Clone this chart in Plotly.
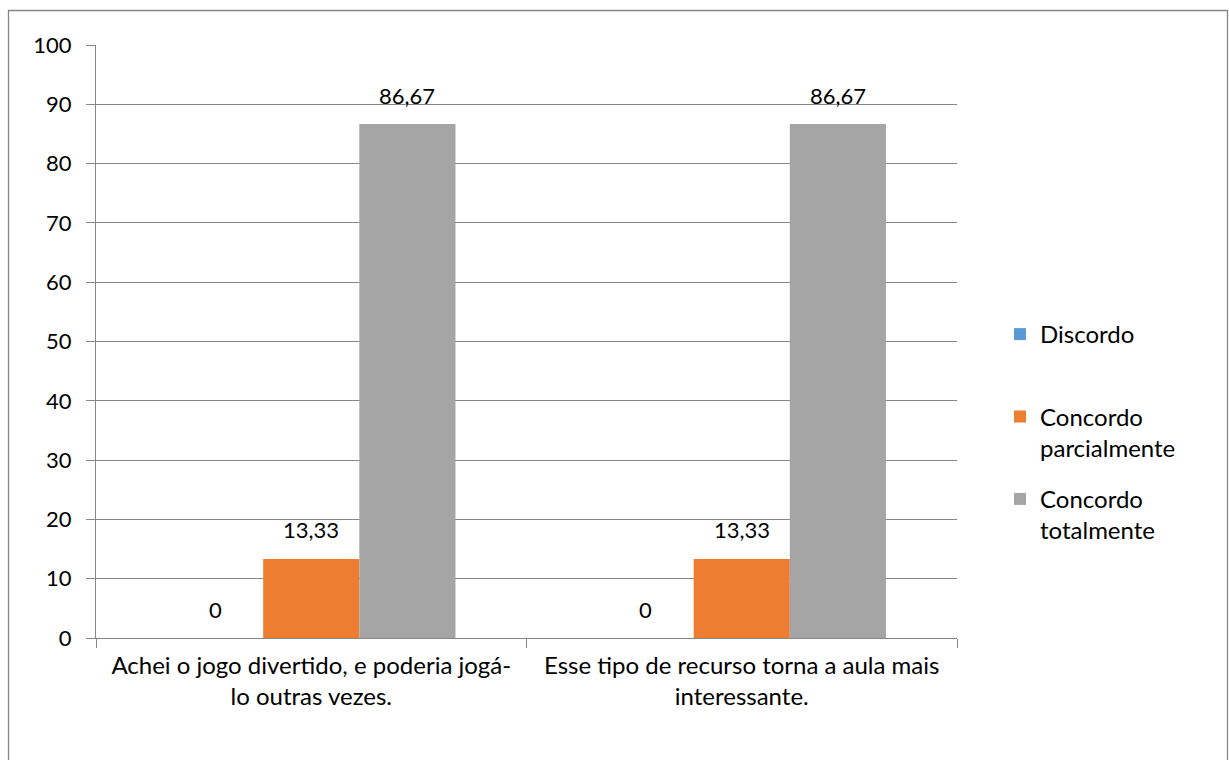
import plotly.graph_objects as go

categories = ["Achei o jogo divertido, e poderia jogá-<br>lo outras vezes.",
              "Esse tipo de recurso torna a aula mais<br>interessante."]
series_names = ["Discordo", "Concordo parcialmente", "Concordo totalmente"]
legend_labels = ["Discordo<br> ", "Concordo<br>parcialmente", "Concordo<br>totalmente"]
discordo = [0, 0]
parcial = [13.33, 13.33]
total = [86.67, 86.67]
series_values = [discordo, parcial, total]
colors = ["#5B9BD5", "#ED7D31", "#A5A5A5"]
y_ticks = list(range(0, 101, 10))

FONT = "Lato"
FS_TEXT = 24
FS_NUM = 22

W, H = 1229, 760
ML, MR, MT, MB = 96, 272, 45, 122
plot_w = W - ML - MR
plot_h = H - MT - MB
bargap = 0.33
cat_px = plot_w / len(categories)
bar_px = cat_px * (1 - bargap) / len(series_names)

fig = go.Figure()
for i, (name, lab, vals, col) in enumerate(zip(series_names, legend_labels, series_values, colors)):
    fig.add_trace(go.Bar(x=categories, y=vals, name=lab, marker=dict(color=col, line=dict(width=0)),
                         legendgroup=name))

annotations = []
for i, vals in enumerate(series_values):
    for c, v in zip(categories, vals):
        annotations.append(dict(x=c, y=v, xref="x", yref="y", text=f"{v:g}".replace(".", ","),
                                showarrow=False, xshift=(i - 1) * bar_px, yshift=29,
                                yanchor="middle", font=dict(family=FONT, size=FS_NUM, color="#000000")))

def px_to_paper_x(px):
    return (px - ML) / plot_w

def px_to_paper_y(py):
    return (H - MB - py) / plot_h

fig.update_layout(
    width=W, height=H,
    margin=dict(l=ML, r=MR, t=MT, b=MB),
    paper_bgcolor="white", plot_bgcolor="white",
    barmode="group", bargap=bargap, bargroupgap=0,
    font=dict(family=FONT, size=FS_TEXT, color="#000000"),
    annotations=annotations,
    showlegend=True,
    legend=dict(x=px_to_paper_x(1000), y=px_to_paper_y(312), xanchor="left", yanchor="top",
                valign="top", tracegroupgap=17, traceorder="grouped",
                font=dict(family=FONT, size=FS_TEXT, color="#000000"), bgcolor="rgba(0,0,0,0)"),
    shapes=[dict(type="rect", xref="paper", yref="paper",
                 x0=px_to_paper_x(8.5), x1=px_to_paper_x(1227.5),
                 y0=px_to_paper_y(780), y1=px_to_paper_y(10.5),
                 line=dict(color="#868686", width=1.3), fillcolor="rgba(0,0,0,0)", layer="below")],
)
fig.update_yaxes(range=[0, 100], tickvals=y_ticks, ticks="outside", ticklen=9, tickcolor="#868686",
                 showgrid=True, gridcolor="#868686", gridwidth=1, showline=True, linecolor="#868686",
                 linewidth=1, zeroline=False, tickfont=dict(family=FONT, size=FS_NUM),
                 ticklabelstandoff=10, fixedrange=True)
fig.update_xaxes(showline=True, linecolor="#868686", linewidth=1, ticks="outside", ticklen=9,
                 tickcolor="#868686", tickson="boundaries", showgrid=False,
                 tickfont=dict(family=FONT, size=FS_TEXT), ticklabelstandoff=6, fixedrange=True)

fig.write_html("out.html", config={"displayModeBar": False})
